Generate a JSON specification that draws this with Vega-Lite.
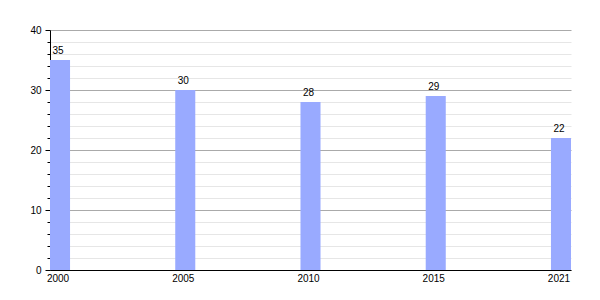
{
  "$schema": "https://vega.github.io/schema/vega-lite/v6.json",
  "width": 521,
  "height": 240,
  "autosize": {"type": "none"},
  "padding": {"left": 50, "top": 30, "right": 29, "bottom": 30},
  "background": "white",
  "config": {"view": {"stroke": null}, "font": "Liberation Sans"},
  "data": {"values": [
    {"year": "2000", "value": 35},
    {"year": "2005", "value": 30},
    {"year": "2010", "value": 28},
    {"year": "2015", "value": 29},
    {"year": "2021", "value": 22}
  ]},
  "encoding": {
    "x": {
      "field": "year", "type": "ordinal", "sort": null,
      "scale": {"paddingInner": 0.84, "paddingOuter": 0},
      "axis": {"title": null, "labelAngle": 0, "ticks": false, "domainColor": "black", "labelColor": "black", "labelFontSize": 10, "labelPadding": 3, "labelOffset": -2}
    },
    "y": {
      "field": "value", "type": "quantitative",
      "scale": {"domain": [0, 40], "nice": false},
      "axis": {
        "title": null,
        "values": [0,2,4,6,8,10,12,14,16,18,20,22,24,26,28,30,32,34,36,38,40],
        "labelExpr": "datum.value % 10 === 0 ? datum.label : ''",
        "labelOverlap": false,
        "grid": true,
        "gridColor": {"condition": {"test": "datum.value % 10 === 0", "value": "#aaaaaa"}, "value": "#e6e6e6"},
        "tickSize": {"condition": {"test": "datum.value % 10 === 0", "value": 5}, "value": 3},
        "tickColor": "black",
        "domainColor": "black",
        "labelColor": "black",
        "labelFontSize": 10,
        "labelPadding": 4
      }
    }
  },
  "layer": [
    {
      "mark": {"type": "bar", "color": "#99aaff"}
    },
    {
      "mark": {"type": "text", "baseline": "bottom", "dy": -4, "dx": -2, "fontSize": 10, "color": "black"},
      "encoding": {
        "text": {"field": "value", "type": "quantitative"}
      }
    }
  ]
}
